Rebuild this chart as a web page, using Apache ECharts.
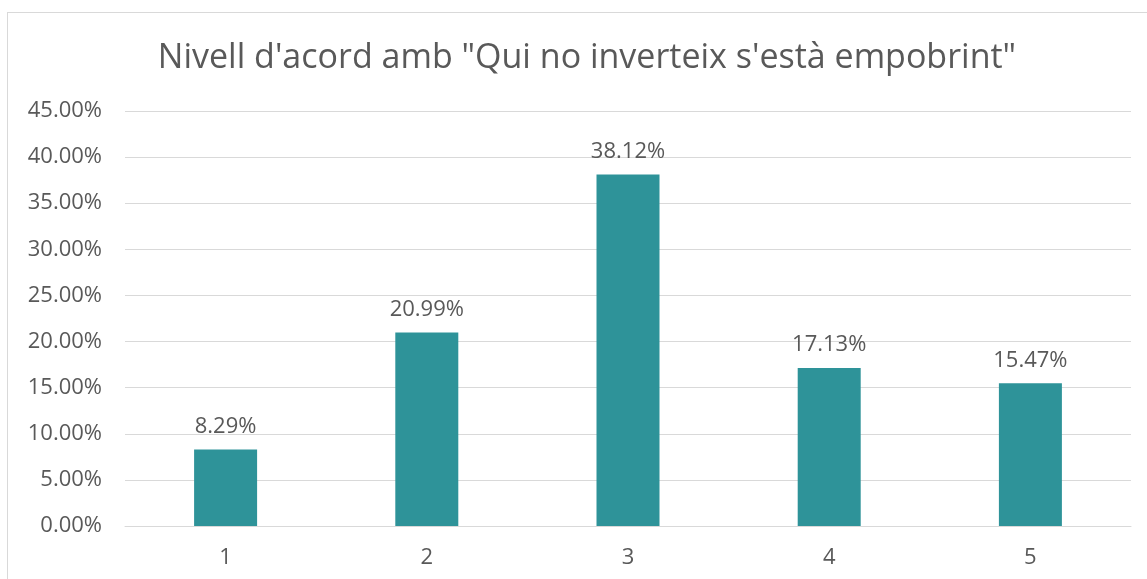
<!DOCTYPE html>
<html>
<head>
<meta charset="utf-8">
<script src="https://cdn.jsdelivr.net/npm/echarts@6/dist/echarts.min.js"></script>
<style>
  html, body { margin: 0; padding: 0; background: #fff; }
  #frame { position: absolute; left: 7px; top: 12px; width: 1160px; height: 600px; border: 1px solid #d9d9d9; box-sizing: border-box; }
  #main { position: absolute; left: 0; top: 0; width: 1147px; height: 579px; }
</style>
</head>
<body>
<div id="frame"></div>
<div id="main"></div>
<script>
var chartTitle = 'Nivell d\'acord amb "Qui no inverteix s\'està empobrint"';
var categories = ['1', '2', '3', '4', '5'];
var values = [8.29, 20.99, 38.12, 17.13, 15.47];

var myChart = echarts.init(document.getElementById('main'));

var option = {
    title: {
        text: chartTitle,
        left: 587,
        top: 41,
        padding: 0,
        textAlign: 'center',
        textStyle: {
            fontFamily: 'Open Sans',
            fontSize: 34,
            fontWeight: 'normal',
            color: '#595959'
        }
    },
    grid: {
        left: 125,
        right: 16,
        top: 111,
        bottom: 53
    },
    xAxis: {
        type: 'category',
        data: categories,
        axisLine: { lineStyle: { color: '#d9d9d9', width: 1 } },
        axisTick: { show: false },
        axisLabel: {
            color: '#595959',
            fontSize: 22,
            fontFamily: 'Open Sans',
            margin: 21
        }
    },
    yAxis: {
        type: 'value',
        min: 0,
        max: 45,
        interval: 5,
        axisLine: { show: false },
        axisTick: { show: false },
        splitLine: { lineStyle: { color: '#d9d9d9', width: 1 } },
        axisLabel: {
            color: '#595959',
            fontSize: 22,
            fontFamily: 'Open Sans',
            margin: 23,
            formatter: function (v) { return v.toFixed(2) + '%'; }
        }
    },
    series: [
        {
            type: 'bar',
            data: values,
            barWidth: 63,
            itemStyle: { color: '#2e9399' },
            label: {
                show: true,
                position: 'top',
                distance: 12,
                color: '#595959',
                fontSize: 22,
                fontFamily: 'Open Sans',
                formatter: function (p) { return p.value.toFixed(2) + '%'; }
            }
        }
    ],
    animation: false
};
myChart.setOption(option);
</script>
</body>
</html>
